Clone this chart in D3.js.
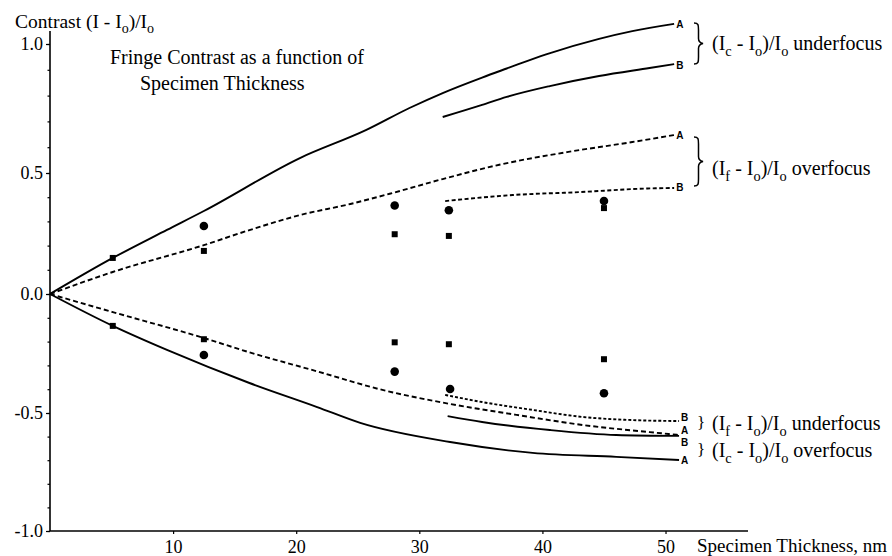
<!DOCTYPE html>
<html>
<head>
<meta charset="utf-8">
<script src="https://cdn.jsdelivr.net/npm/d3@7"></script>
<style>
body { margin: 0; background: #fff; }
svg { font-family: "Liberation Serif", "Times New Roman", serif; }
</style>
</head>
<body>
<svg id="chart" width="892" height="556"></svg>
<script>
// values (thickness in nm, contrast)
var ucA_x = [0, 5.1, 9.5, 12.5, 20.3, 25.7, 29.2, 31.9, 35.1, 37.1, 40.3, 44.6, 47.3, 50.7];
var ucA_y = [0, 0.149, 0.265, 0.343, 0.558, 0.667, 0.752, 0.81, 0.87, 0.905, 0.96, 1.02, 1.05, 1.078];
var ucB_x = [31.9, 35.1, 37.1, 40.6, 44.6, 48.7, 50.7];
var ucB_y = [0.717, 0.764, 0.795, 0.837, 0.876, 0.907, 0.922];

var ofA_x = [0, 5.1, 12.5, 16.2, 20.3, 24.4, 27.8, 31.9, 36.5, 42, 47.3, 50.7];
var ofA_y = [0, 0.091, 0.202, 0.264, 0.326, 0.372, 0.417, 0.475, 0.532, 0.581, 0.62, 0.647];
var ofB_x = [32.1, 37.6, 43, 48.5, 50.7];
var ofB_y = [0.384, 0.409, 0.421, 0.436, 0.438];

var ufA_x = [0, 5.1, 12.5, 16.2, 21.7, 27, 32.5, 37.9, 43.3, 48.7, 51.1];
var ufA_y = [0, -0.076, -0.185, -0.245, -0.325, -0.403, -0.462, -0.508, -0.551, -0.581, -0.593];
var ufB_x = [32.1, 35.1, 39.2, 43.3, 47.3, 51.1];
var ufB_y = [-0.424, -0.454, -0.487, -0.517, -0.53, -0.534];

var ocA_x = [0, 5.1, 9.5, 16.2, 21.7, 25.2, 32.5, 39.2, 46, 51.1];
var ocA_y = [0, -0.134, -0.235, -0.374, -0.475, -0.542, -0.623, -0.669, -0.686, -0.699];
var ocB_x = [32.3, 35.1, 40.6, 46, 51.1];
var ocB_y = [-0.513, -0.538, -0.572, -0.593, -0.597];

// measured points
var sqUp_x = [5.1, 12.5, 28, 32.4, 45];
var sqUp_y = [0.149, 0.178, 0.247, 0.24, 0.355];
var ciUp_x = [12.5, 28, 32.4, 45];
var ciUp_y = [0.281, 0.366, 0.346, 0.384];
var sqDn_x = [5.1, 12.5, 28, 32.4, 45];
var sqDn_y = [-0.134, -0.19, -0.203, -0.211, -0.274];
var ciDn_x = [12.5, 28, 32.5, 45];
var ciDn_y = [-0.256, -0.326, -0.399, -0.417];

var xTicks = [10, 20, 30, 40, 50];
var yTicks = [-1, -0.5, 0, 0.5, 1];

var svg = d3.select("#chart");

var x = d3.scaleLinear().domain([0, 56.7]).range([50, 748]);
// the scanned axis is slightly stretched above zero
var y = d3.scaleLinear().domain([-1, -0.5, 0, 0.5, 1]).range([531, 413, 294, 173, 44]);

var zip = (a, b) => a.map((v, i) => [v, b[i]]);

// axes
var gy = svg.append("g").attr("transform", "translate(50,0)");
gy.call(d3.axisLeft(y).tickValues(d3.range(-1, 1.001, 0.1)).tickSize(2.5).tickFormat(""));
gy.selectAll("path").remove();
var gy2 = svg.append("g").attr("transform", "translate(50,0)");
gy2.call(d3.axisLeft(y).tickValues(yTicks).tickSize(4).tickPadding(3).tickFormat(d => d.toFixed(1)));
gy2.selectAll("path").remove();
svg.append("line").attr("x1", 50).attr("x2", 50).attr("y1", y(-1)).attr("y2", y(1.05))
  .attr("stroke", "#000").attr("stroke-width", 1.6);

var gx = svg.append("g").attr("transform", "translate(0," + y(-1) + ")");
gx.call(d3.axisBottom(x).tickValues(xTicks).tickSize(3).tickPadding(6));
gx.select("path").remove();
svg.append("line").attr("x1", x(0)).attr("x2", x(56.7)).attr("y1", y(-1)).attr("y2", y(-1))
  .attr("stroke", "#000").attr("stroke-width", 1.6);

svg.selectAll(".tick text")
  .style("font-family", "'Liberation Serif', serif")
  .style("font-size", "18px")
  .style("fill", "#000");
svg.selectAll(".tick line").attr("stroke", "#000").attr("stroke-width", 1.2);

// curves
var series = [
  {x: ucA_x, y: ucA_y, dash: null, lab: "A", dy: 4},
  {x: ucB_x, y: ucB_y, dash: null, lab: "B", dy: 5},
  {x: ofA_x, y: ofA_y, dash: "5,3", lab: "A", dy: 4},
  {x: ofB_x, y: ofB_y, dash: "4,2.5", lab: "B", dy: 3},
  {x: ufB_x, y: ufB_y, dash: "3,2", lab: "B", dy: 0},
  {x: ufA_x, y: ufA_y, dash: "5,3", lab: "A", dy: -1},
  {x: ocB_x, y: ocB_y, dash: null, lab: "B", dy: 10},
  {x: ocA_x, y: ocA_y, dash: null, lab: "A", dy: 4}
];

var line = d3.line().x(d => x(d[0])).y(d => y(d[1])).curve(d3.curveMonotoneX);

series.forEach(s => {
  var pts = zip(s.x, s.y);
  svg.append("path").attr("d", line(pts))
    .attr("fill", "none").attr("stroke", "#000").attr("stroke-width", 1.9)
    .attr("stroke-dasharray", s.dash);
  var last = pts[pts.length - 1];
  svg.append("text").attr("x", x(last[0]) + 2).attr("y", y(last[1]) + s.dy)
    .attr("font-family", "Liberation Sans").attr("font-weight", "bold").attr("font-size", 10)
    .text(s.lab);
});

// markers
function squares(xs, ys) {
  svg.append("g").selectAll("rect").data(zip(xs, ys)).enter().append("rect")
    .attr("x", d => x(d[0]) - 3).attr("y", d => y(d[1]) - 3)
    .attr("width", 6).attr("height", 6).attr("fill", "#000");
}
function circles(xs, ys) {
  svg.append("g").selectAll("circle").data(zip(xs, ys)).enter().append("circle")
    .attr("cx", d => x(d[0])).attr("cy", d => y(d[1])).attr("r", 4.3).attr("fill", "#000");
}
squares(sqUp_x, sqUp_y);
circles(ciUp_x, ciUp_y);
squares(sqDn_x, sqDn_y);
circles(ciDn_x, ciDn_y);

// text with subscripts: parts = [[text, isSub], ...]
function richText(px, py, size, parts) {
  var t = svg.append("text").attr("x", px).attr("y", py).attr("font-size", size);
  var shifted = false;
  parts.forEach(p => {
    var ts = t.append("tspan").text(p[0]);
    if (p[1] && !shifted) { ts.attr("dy", size * 0.28).attr("font-size", size * 0.72); shifted = true; }
    else if (p[1]) { ts.attr("font-size", size * 0.72); }
    else if (shifted) { ts.attr("dy", -size * 0.28); shifted = false; }
  });
  return t;
}

richText(15, 28, 19.5, [["Contrast (I - I"], ["o", 1], [")/I"], ["o", 1]]);

svg.append("text").attr("x", 110).attr("y", 64).attr("font-size", 20)
  .text("Fringe Contrast as a function of");
svg.append("text").attr("x", 140).attr("y", 90).attr("font-size", 20)
  .text("Specimen Thickness");

svg.append("text").attr("x", 697).attr("y", 552).attr("font-size", 19).text("Specimen Thickness, nm");

// braces and right-hand labels
function brace(bx, y0, y1, w) {
  var ym = (y0 + y1) / 2, h = w / 2;
  var p = "M" + bx + "," + y0 +
    " C" + (bx + h) + "," + y0 + " " + (bx + h) + "," + (y0 + 2) + " " + (bx + h) + "," + (y0 + 7) +
    " L" + (bx + h) + "," + (ym - 5) +
    " C" + (bx + h) + "," + (ym - 1) + " " + (bx + w) + "," + ym + " " + (bx + w) + "," + ym +
    " C" + (bx + w) + "," + ym + " " + (bx + h) + "," + (ym + 1) + " " + (bx + h) + "," + (ym + 5) +
    " L" + (bx + h) + "," + (y1 - 7) +
    " C" + (bx + h) + "," + (y1 - 2) + " " + (bx + h) + "," + y1 + " " + bx + "," + y1;
  svg.append("path").attr("d", p).attr("fill", "none").attr("stroke", "#000").attr("stroke-width", 1.5);
}
brace(694, 23, 64, 9);
brace(694, 137, 186, 9);

richText(712, 50, 20, [["(I"], ["c", 1], [" - I"], ["o", 1], [")/I"], ["o", 1], [" underfocus"]]);
richText(712, 175, 20, [["(I"], ["f", 1], [" - I"], ["o", 1], [")/I"], ["o", 1], [" overfocus"]]);
svg.append("text").attr("x", 697).attr("y", 428).attr("font-size", 17).text("}");
svg.append("text").attr("x", 697).attr("y", 455).attr("font-size", 17).text("}");
richText(712, 430, 20, [["(I"], ["f", 1], [" - I"], ["o", 1], [")/I"], ["o", 1], [" underfocus"]]);
richText(712, 457, 20, [["(I"], ["c", 1], [" - I"], ["o", 1], [")/I"], ["o", 1], [" overfocus"]]);
</script>
</body>
</html>
